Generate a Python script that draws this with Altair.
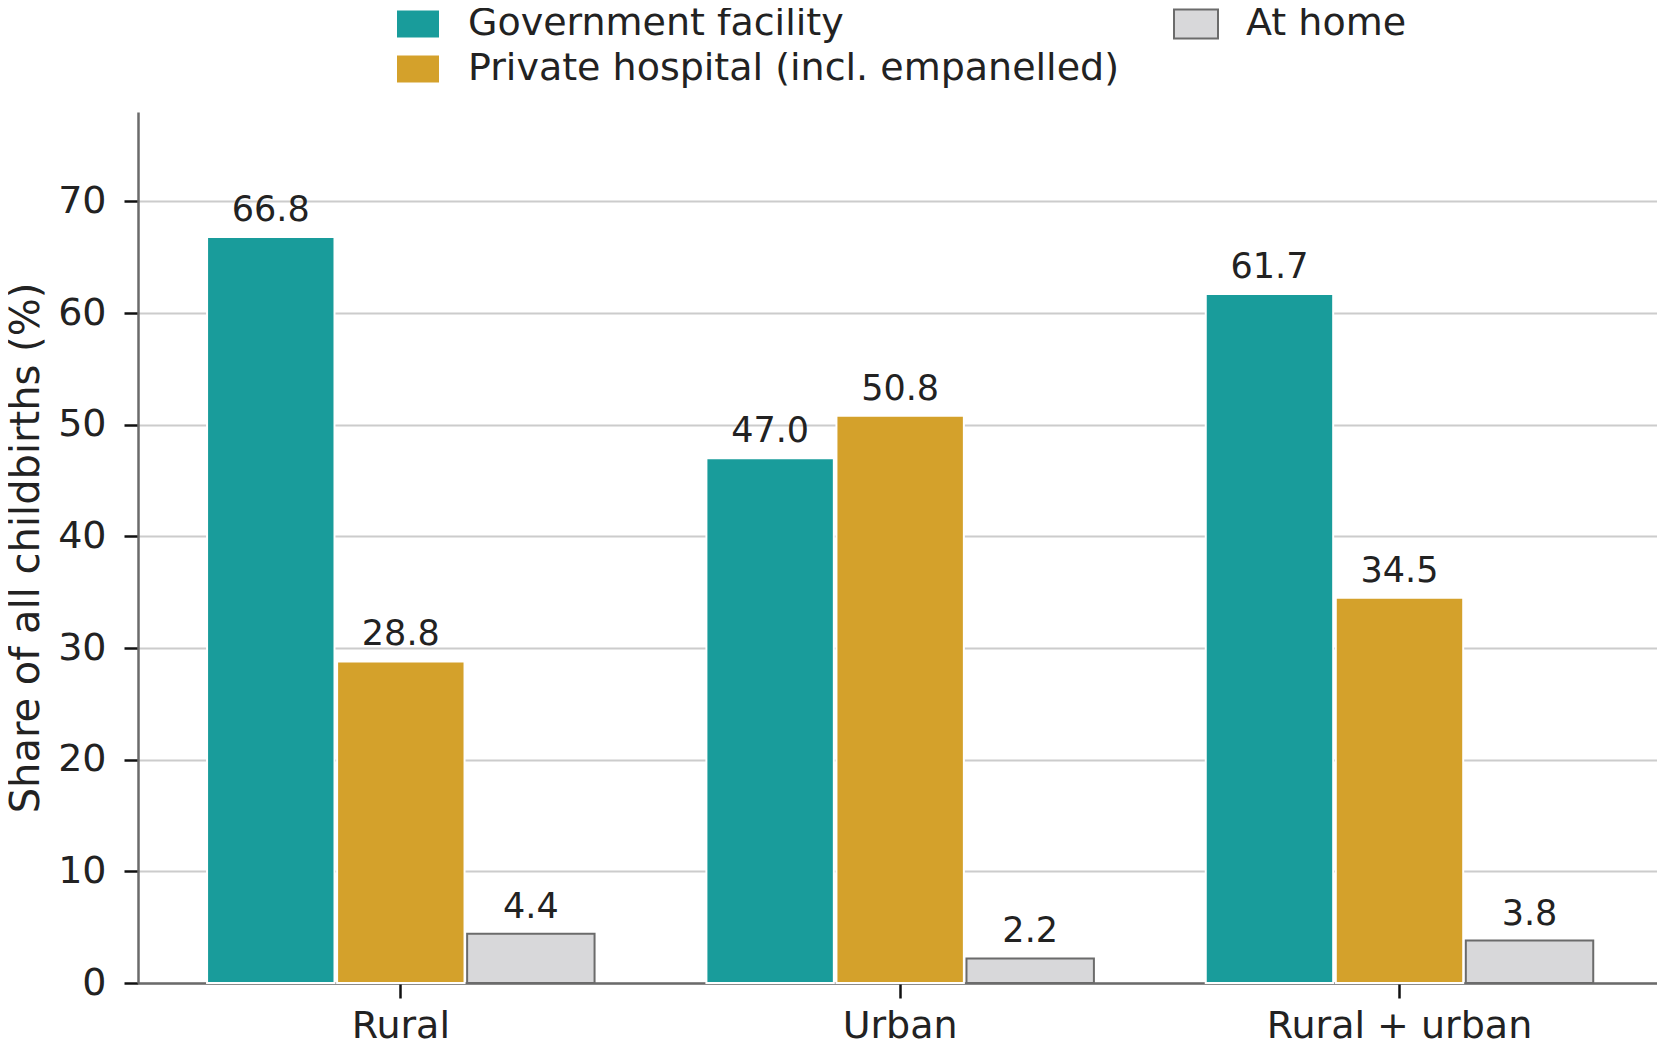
import altair as alt
import pandas as pd

# values
areas = ["Rural", "Urban", "Rural + urban"]
places = ["Government facility", "Private hospital (incl. empanelled)", "At home"]
government = [66.8, 47.0, 61.7]
private = [28.8, 50.8, 34.5]
home = [4.4, 2.2, 3.8]

fill_colors = ["#199c9b", "#d4a12b", "#d8d8da"]
edge_colors = ["#ffffff", "#ffffff", "#6b6b6b"]

rows = []
for i, area in enumerate(areas):
    for place, vals in zip(places, [government, private, home]):
        rows.append({"area": area, "place": place, "share": vals[i]})
df = pd.DataFrame(rows)

FONT = "DejaVu Sans"
FS = 38
rect_path = "M-1,-0.66H1V0.66H-1Z"

# vertical legend with two columns fills column by column
legend = alt.Legend(
    title=None, orient="none", legendX=257, legendY=-111, columns=2,
    columnPadding=51, rowPadding=3, symbolType=rect_path, symbolSize=1936,
    symbolStrokeWidth=2, labelFont=FONT, labelFontSize=FS, labelColor="#222222",
    labelOffset=27, labelLimit=900,
)

x_enc = alt.X("area:N", sort=areas, title=None,
              scale=alt.Scale(paddingInner=0.224, paddingOuter=0.133, align=0.52),
              axis=alt.Axis(labelAngle=0, tickSize=15, tickWidth=2.5, tickColor="#111111",
                            domainColor="#6b6b6b", domainWidth=2.5, labelPadding=9,
                            labelFont=FONT, labelFontSize=FS, labelColor="#222222",
                            labelLimit=600, grid=False))
off_enc = alt.XOffset("place:N", sort=places,
                      scale=alt.Scale(domain=places, paddingInner=0.02, paddingOuter=0))
y_enc = alt.Y("share:Q",
              scale=alt.Scale(domain=[0, 78], nice=False),
              axis=alt.Axis(values=list(range(0, 80, 10)), title="Share of all childbirths (%)",
                            tickSize=14, tickWidth=2.5, tickColor="#111111",
                            domainColor="#6b6b6b", domainWidth=2.5,
                            labelFont=FONT, labelFontSize=FS, labelColor="#222222",
                            labelPadding=18, titleFont=FONT, titleFontSize=40,
                            titleFontWeight="normal", titleColor="#222222", titlePadding=11,
                            gridColor="#cccccc", gridWidth=2))

base = alt.Chart(df).encode(x=x_enc, xOffset=off_enc, y=y_enc)

bars = base.mark_bar(strokeWidth=2).encode(
    fill=alt.Fill("place:N", scale=alt.Scale(domain=places, range=fill_colors), legend=legend),
    stroke=alt.Stroke("place:N", scale=alt.Scale(domain=places, range=edge_colors), legend=legend),
)

labels = base.mark_text(dy=-16, baseline="alphabetic", align="center", font=FONT,
                        fontSize=35, color="#222222").encode(
    text=alt.Text("share:Q", format=".1f")
)

chart = (bars + labels).properties(
    width=1519, height=871,
    autosize=alt.AutoSizeParams(type="none"),
    padding={"left": 130, "top": 104, "right": 0, "bottom": 63},
).configure_view(stroke=None)

chart.save("out.html", embed_options={"renderer": "svg", "actions": False})
